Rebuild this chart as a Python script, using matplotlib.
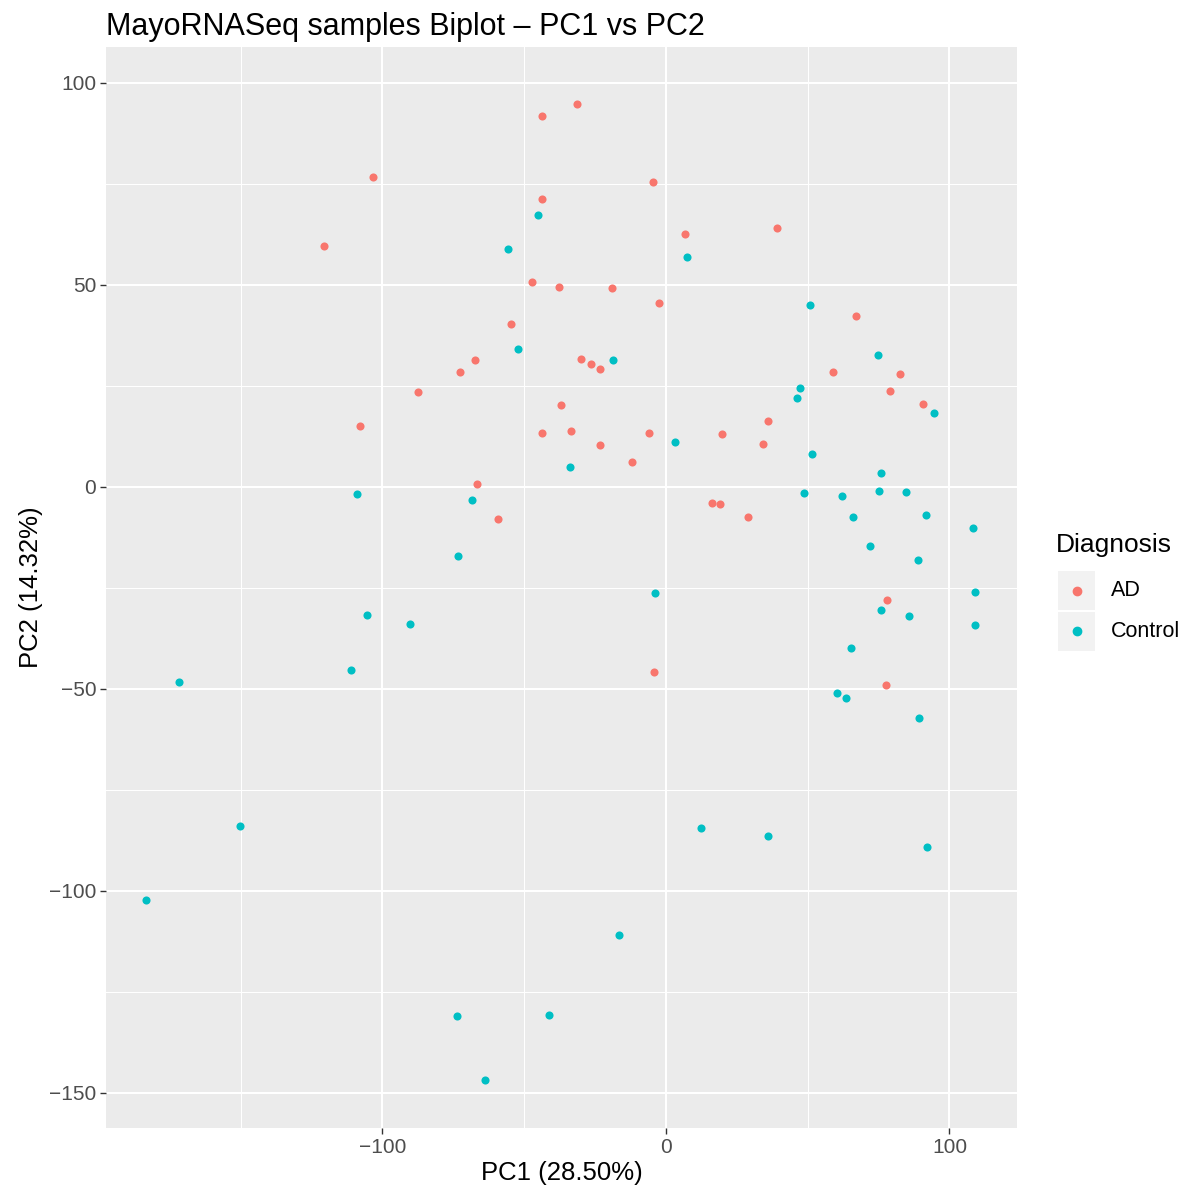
import numpy as np
import matplotlib
matplotlib.use("Agg")
import matplotlib.pyplot as plt
from matplotlib.patches import Rectangle
from matplotlib.lines import Line2D
from matplotlib.ticker import MultipleLocator, FuncFormatter

plt.rcParams['font.family'] = ['Liberation Sans', 'DejaVu Sans']

# PCA scores
ad_pc1 = [-31.4, -43.7, -103.4, -4.6, -43.7, -120.6, 6.7, 39.2, -47.3, -37.7,
          -19.0, -2.5, -54.7, 67.0, -67.4, -72.7, -30.0, -26.5, -23.3, -87.5,
          58.9, 82.5, 79.0, 90.7, -37.0, -107.9, -43.7, -33.5, -23.3, -6.0,
          19.8, 36.0, 34.2, -12.0, -66.7, -59.3, 16.2, 19.0, 28.9, 78.0,
          -4.2, 77.6]
ad_pc2 = [94.8, 91.8, 76.7, 75.5, 71.3, 59.7, 62.6, 64.1, 50.7, 49.5,
          49.3, 45.5, 40.3, 42.3, 31.4, 28.5, 31.7, 30.4, 29.2, 23.5,
          28.5, 28.0, 23.8, 20.5, 20.3, 15.1, 13.4, 13.9, 10.4, 13.4,
          13.1, 16.3, 10.6, 6.2, 0.7, -7.9, -4.0, -4.2, -7.4, -28.0,
          -45.8, -49.0]

ctrl_pc1 = [-45.1, -55.7, 7.4, 50.8, -52.2, -18.7, 74.8, 47.3, 46.2, 94.5,
            3.2, 51.5, -33.9, 75.8, -109.0, -68.4, 48.7, 62.1, 75.1, 84.7,
            66.0, 91.7, 108.3, 72.0, -73.4, 88.9, 109.0, -3.9, 109.0, -90.3,
            -105.5, 75.8, 85.7, 65.3, -111.1, -171.8, 60.3, 63.5, 89.2, -150.3,
            12.3, 36.0, 92.1, -183.4, -16.6, -73.7, -41.3, -63.8]
ctrl_pc2 = [67.3, 58.9, 56.9, 45.0, 34.2, 31.4, 32.7, 24.5, 22.0, 18.3,
            11.1, 8.2, 5.0, 3.5, -1.7, -3.2, -1.5, -2.2, -1.0, -1.2,
            -7.4, -6.9, -10.1, -14.6, -17.1, -18.1, -26.0, -26.2, -34.2, -33.9,
            -31.7, -30.4, -31.9, -39.9, -45.3, -48.3, -51.0, -52.2, -57.2, -83.9,
            -84.4, -86.4, -89.1, -102.2, -110.9, -130.9, -130.7, -146.8]

groups = ['AD', 'Control']
colors = ['#F8766D', '#00BFC4']

fig = plt.figure(figsize=(11.88, 11.91), dpi=100)
ax = fig.add_axes([0.0892, 0.0529, 0.7668, 0.9076])
ax.set_facecolor('#EBEBEB')

ax.scatter(ad_pc1, ad_pc2, s=34, color=colors[0], linewidths=0, zorder=3)
ax.scatter(ctrl_pc1, ctrl_pc2, s=34, color=colors[1], linewidths=0, zorder=3)

ax.set_xlim(-197.5, 123.8)
ax.set_ylim(-158.7, 108.9)
ax.xaxis.set_major_locator(MultipleLocator(100))
ax.xaxis.set_minor_locator(MultipleLocator(50))
ax.yaxis.set_major_locator(MultipleLocator(50))
ax.yaxis.set_minor_locator(MultipleLocator(25))
ax.grid(which='major', color='white', linewidth=1.5)
ax.grid(which='minor', color='white', linewidth=0.75)
ax.set_axisbelow(True)
for s in ax.spines.values():
    s.set_visible(False)
ax.tick_params(which='major', length=4, color='#333333', labelsize=15,
               labelcolor='#4D4D4D', width=1, pad=3)
ax.tick_params(which='minor', length=0)
fmt = FuncFormatter(lambda v, p: f"{int(v)}".replace('-', '\u2212'))
ax.xaxis.set_major_formatter(fmt)
ax.yaxis.set_major_formatter(fmt)

ax.set_xlabel('PC1 (28.50%)', fontsize=18.5, labelpad=3)
ax.set_ylabel('PC2 (14.32%)', fontsize=18.5, labelpad=4)
ax.set_title('MayoRNASeq samples Biplot \u2013 PC1 vs PC2', fontsize=22,
             loc='left', pad=9)

# legend drawn by hand in ggplot style
W, H = 1188.0, 1191.0
fig.text(1056 / W, 1 - 545 / H, 'Diagnosis', fontsize=19, va='center', ha='left')
for i, (g, c) in enumerate(zip(groups, colors)):
    top = 571 + i * 41
    fig.add_artist(Rectangle((1058 / W, 1 - (top + 39) / H), 37 / W, 39 / H,
                             transform=fig.transFigure, facecolor='#F2F2F2',
                             edgecolor='none'))
    cy = 1 - (top + 19.5) / H
    fig.add_artist(Line2D([1076.5 / W], [cy], transform=fig.transFigure,
                          marker='o', markersize=6, color=c, linestyle='none'))
    fig.text(1111 / W, cy, g, fontsize=15.5, va='center', ha='left')

fig.savefig('out.png', dpi=100)
